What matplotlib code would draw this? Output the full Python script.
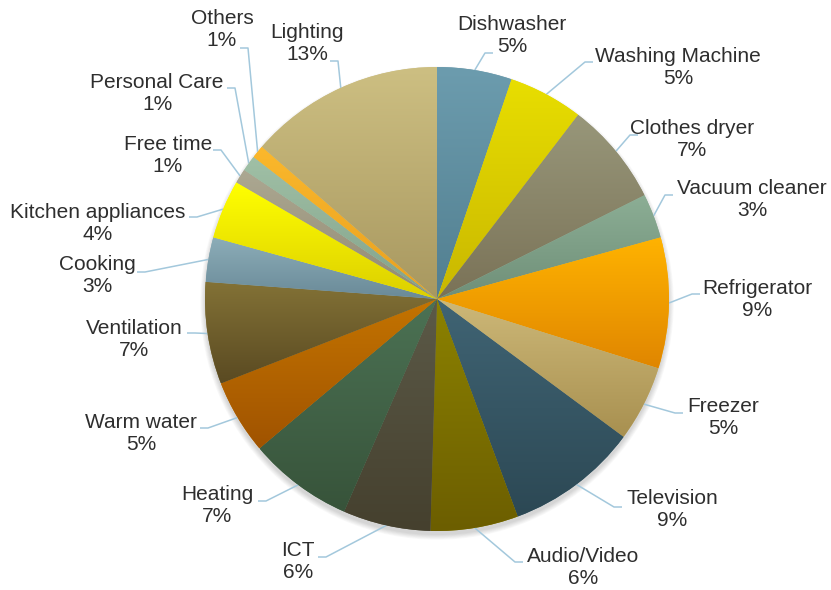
import numpy as np
import matplotlib.pyplot as plt
from matplotlib.colors import to_rgb


# _____DATA____

categories = ['Dishwasher', 'Washing Machine', 'Clothes dryer', 'Vacuum cleaner',
              'Refrigerator', 'Freezer', 'Television', 'Audio/Video', 'ICT',
              'Heating', 'Warm water', 'Ventilation', 'Cooking',
              'Kitchen appliances', 'Free time', 'Personal Care', 'Others', 'Lighting']
shares = [5.2, 5.2, 7.2, 3.1, 9.1, 5.3, 9.2, 6.1, 6.1,
          7.3, 5.2, 7.1, 3.1, 4.1, 1.0, 1.1, 0.9, 13.6]
pct_text = ['5%', '5%', '7%', '3%', '9%', '5%', '9%', '6%', '6%',
            '7%', '5%', '7%', '3%', '4%', '1%', '1%', '1%', '13%']


# _____STYLE / LAYOUT____

# gradient colours per wedge (top, bottom)
top_colors = ['#6c9cae', '#e8de00', '#98977a', '#8cae95', '#ffb300', '#cdb878',
              '#406474', '#8c8200', '#5c5a48', '#4c7254', '#c47400', '#837236',
              '#8cadb8', '#ffff00', '#aca892', '#a0c0a6', '#fbb82c', '#cdbf82']
bottom_colors = ['#527f90', '#c9b700', '#7a7257', '#6f8f78', '#e08600', '#a89050',
                 '#2c4854', '#6c5e00', '#45402e', '#37533a', '#a05300', '#5a4a22',
                 '#6a8a98', '#dccf00', '#928a72', '#82a28a', '#e8a020', '#a89860']

# label block centres and text-side end of the leader line (image pixels)
label_pos = [(512, 36), (678, 68), (692, 139), (752, 200), (757, 300), (723, 417),
             (672, 510), (583, 567), (298, 562), (217, 505), (141, 434), (134, 340),
             (97, 276), (98, 223), (168, 155), (157, 94), (222, 30), (307, 43)]
leader_pos = [(493, 53), (593, 62), (638, 135), (673, 195), (700, 294), (683, 413),
              (622, 507), (523, 562), (318, 557), (258, 501), (200, 428), (187, 333),
              (137, 272), (189, 217), (213, 150), (227, 88), (240, 48), (330, 61)]

W, H = 831, 590
CX, CY, R = 437, 299, 232


def flip(x, y):
    # image pixel -> data coordinates (y up)
    return x, H - y


fig = plt.figure(figsize=(W / 100, H / 100), dpi=100)
ax = fig.add_axes([0, 0, 1, 1])

cx, cy = flip(CX, CY)

# soft shadow under the pie
for k in range(7):
    ax.add_patch(plt.Circle((cx, cy - 4), R + k * 0.8, color='black', alpha=0.025,
                            lw=0, zorder=0))

wedges, _ = ax.pie(shares, colors=top_colors, startangle=90, counterclock=False,
                   center=(cx, cy), radius=R, wedgeprops=dict(linewidth=0))

# vertical gradient inside each wedge
for w, c_top, c_bot in zip(wedges, top_colors, bottom_colors):
    ext = w.get_path().get_extents()
    t = np.linspace(0, 1, 128)[:, None, None]
    img = np.array(to_rgb(c_bot)) * (1 - t) + np.array(to_rgb(c_top)) * t
    im = ax.imshow(img, extent=(ext.x0, ext.x1, ext.y0, ext.y1), origin='lower',
                   aspect='auto', interpolation='bilinear', zorder=w.get_zorder() + 0.1)
    im.set_clip_path(w)

# labels and leader lines
for w, name, pct, lp, ap in zip(wedges, categories, pct_text, label_pos, leader_pos):
    mid = np.deg2rad((w.theta1 + w.theta2) / 2)
    ex, ey = cx + R * np.cos(mid), cy + R * np.sin(mid)
    axx, ayy = flip(*ap)
    elbow_x = axx + 8 if axx < ex else axx - 8
    ax.plot([axx, elbow_x, ex], [ayy, ayy, ey], color='#a3c8dc', lw=1.1,
            solid_capstyle='butt', zorder=1)
    tx, ty = flip(*lp)
    ax.text(tx, ty, '{}\n{}'.format(name, pct), ha='center', va='center',
            fontsize=15, family='Liberation Sans', color='#2e2e2e', linespacing=1.2)

ax.set_xlim(0, W)
ax.set_ylim(0, H)
ax.axis('off')

fig.savefig('out.png', dpi=100, facecolor='white')
